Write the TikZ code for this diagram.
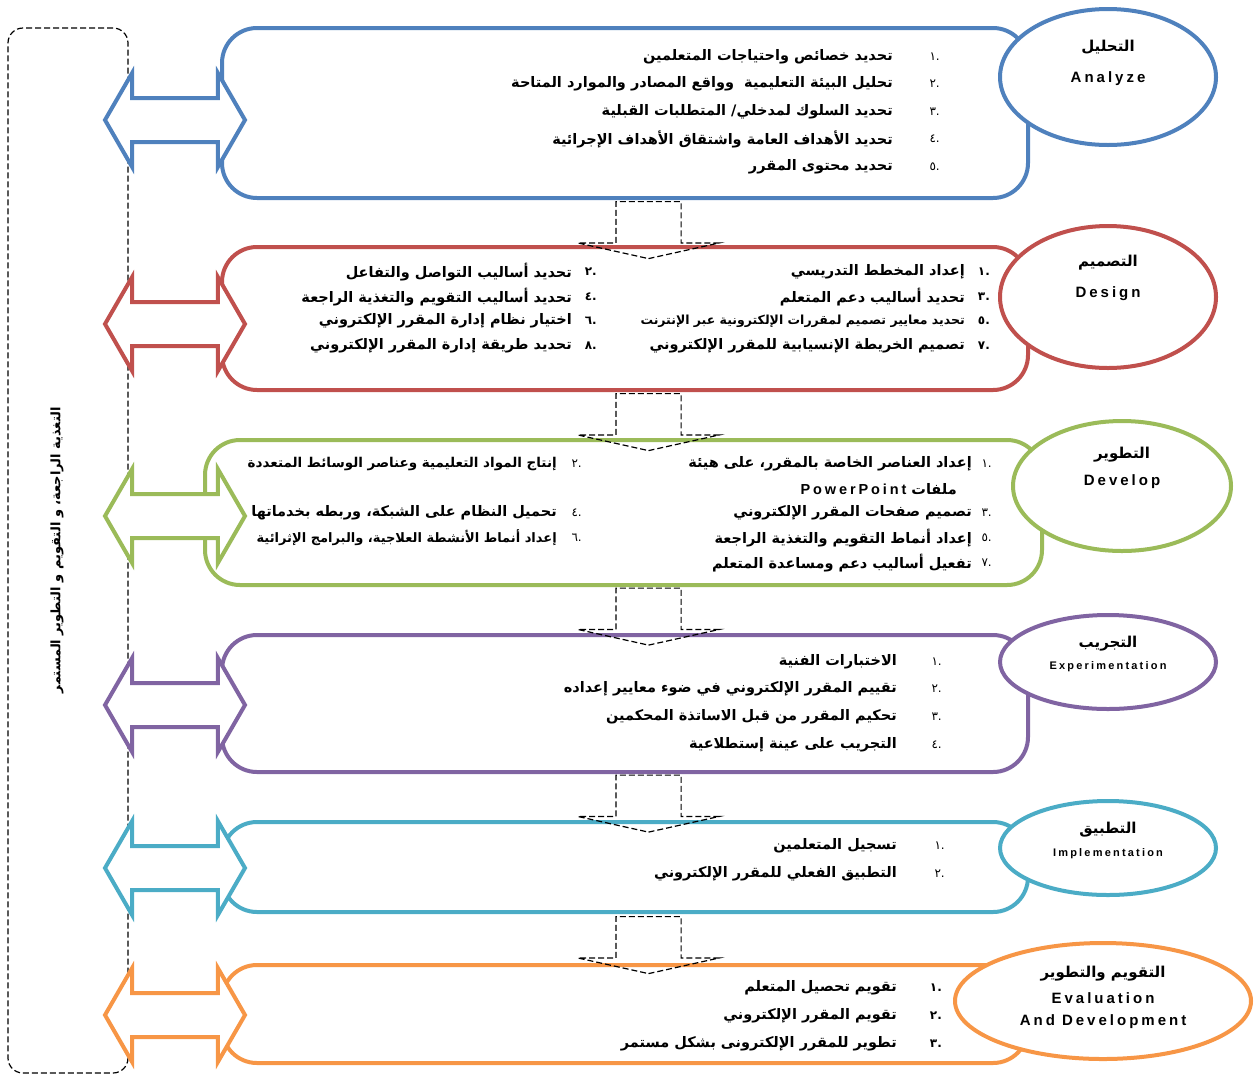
\documentclass[tikz,border=0pt]{standalone}
\usepackage{fontspec}
\setmainfont{Liberation Sans}
\newfontfamily\arabicfont[Script=Arabic]{DejaVu Sans}
\newfontfamily\latinfont[LetterSpace=20]{Liberation Sans}
\TeXXeTstate=1
\usetikzlibrary{shapes.geometric, shapes.arrows, positioning, calc}
\definecolor{stageA}{RGB}{79,129,189}
\definecolor{stageB}{RGB}{192,80,77}
\definecolor{stageC}{RGB}{155,187,89}
\definecolor{stageD}{RGB}{128,100,162}
\definecolor{stageE}{RGB}{75,172,198}
\definecolor{stageF}{RGB}{247,150,70}
\newcommand{\artxt}[1]{\beginR #1\endR}

\begin{document}
\begin{tikzpicture}[x=1pt, y=-1pt,
    stagebox/.style={draw=#1, line width=4pt, rounded corners=35pt, fill=white, inner sep=0pt},
    stagecircle/.style={ellipse, draw=#1, line width=4pt, fill=white, inner sep=0pt},
    sidearrow/.style={double arrow, draw=#1, line width=4pt, fill=white, inner xsep=0pt, inner ysep=20pt,
        minimum height=140pt, double arrow head extend=25pt, double arrow tip angle=120},
    downarrow/.style={single arrow, rotate=-90, draw, dash pattern=on 6pt off 3pt, line width=1.2pt,
        inner xsep=0pt, inner ysep=32pt, minimum height=57pt, single arrow head extend=38pt, single arrow tip angle=155},
    item/.style={anchor=east, inner sep=0pt, font=\arabicfont\bfseries\fontsize{14.5}{16}\selectfont},
    itemsmall/.style={anchor=east, inner sep=0pt, font=\arabicfont\bfseries\fontsize{13.5}{15}\selectfont},
    num/.style={anchor=east, inner sep=0pt, font=\arabicfont\fontsize{12}{14}\selectfont},
    numb/.style={anchor=east, inner sep=0pt, font=\arabicfont\bfseries\fontsize{12}{14}\selectfont},
    title/.style={inner sep=0pt, font=\arabicfont\bfseries\fontsize{15}{17}\selectfont},
    eng/.style={inner sep=0pt, font=\latinfont\bfseries\fontsize{15}{17}\selectfont},
    engsmall/.style={inner sep=0pt, font=\latinfont\bfseries\fontsize{11}{13}\selectfont}]
    \useasboundingbox (0,0) rectangle (1260,1077);

    % Feedback frame
    \node[draw, dash pattern=on 6pt off 3pt, line width=1.2pt, rounded corners=15pt, minimum width=120pt, minimum height=1045pt] (frame) at (68,550.5) {};
    \node[rotate=90, inner sep=0pt, font=\arabicfont\bfseries\fontsize{13}{15}\selectfont] (feedback) at (57,550) {\artxt{التغذية الراجعة، و التقويم و التطوير المستمر}};

    % Stage boxes
    \node[stagebox=stageA, minimum width=806pt, minimum height=170pt] (analyzebox) at (625,113) {};
    \node[stagebox=stageB, minimum width=806pt, minimum height=143pt] (designbox) at (625,318.5) {};
    \node[stagebox=stageC, minimum width=837pt, minimum height=145pt] (developbox) at (623.5,512.5) {};
    \node[stagebox=stageD, minimum width=806pt, minimum height=137pt] (experimentbox) at (625,703.5) {};
    \node[stagebox=stageE, minimum width=806pt, minimum height=90pt] (implementbox) at (625,867) {};
    \node[stagebox=stageF, minimum width=806pt, minimum height=98pt] (evaluatebox) at (625,1014) {};

    % Stage circles
    \node[stagecircle=stageA, minimum width=216pt, minimum height=136pt] (analyze) at (1108,77) {};
    \node[stagecircle=stageB, minimum width=216pt, minimum height=142pt] (design) at (1108,297) {};
    \node[stagecircle=stageC, minimum width=218pt, minimum height=130pt] (develop) at (1122,486) {};
    \node[stagecircle=stageD, minimum width=216pt, minimum height=94pt] (experiment) at (1108,662) {};
    \node[stagecircle=stageE, minimum width=216pt, minimum height=94pt] (implement) at (1108,848) {};
    \node[stagecircle=stageF, minimum width=296pt, minimum height=116pt] (evaluate) at (1103,1001) {};

    % Side arrows
    \foreach \y/\c/\n in {120/stageA/sa, 324/stageB/sb, 516/stageC/sc, 705/stageD/sd, 868/stageE/se, 1015/stageF/sf}
        \node[sidearrow=\c] (\n) at (175,\y) {};

    % Links between stages
    \foreach \y/\n in {226.5/la, 418.5/lb, 613/lc, 800/ld, 941.5/le}
        \node[downarrow] (\n) at (648.5,\y) {};

    % Circle labels
    \node[title] (analyzear) at (1108,47) {التحليل};
    \node[eng] (analyzeen) at (1108,79) {Analyze};
    \node[title] (designar) at (1108,263) {التصميم};
    \node[eng] (designen) at (1108,294) {Design};
    \node[title] (developar) at (1122,455) {التطوير};
    \node[eng] (developen) at (1122,482) {Develop};
    \node[title] (experimentar) at (1108,644) {التجريب};
    \node[engsmall] (experimenten) at (1108,667) {Experimentation};
    \node[title] (implementar) at (1108,830) {التطبيق};
    \node[engsmall] (implementen) at (1108,854) {Implementation};
    \node[title] (evaluatear) at (1103,974) {\artxt{التقويم والتطوير}};
    \node[eng] (evaluateen) at (1103,998) {Evaluation};
    \node[eng] (evaluateen2) at (1103,1022) {And Development};

    % Analyze items
    \node[num] (a1n) at (940,57) {.١};
    \node[item] (a1) at (893,57) {\artxt{تحديد خصائص واحتياجات المتعلمين}};
    \node[num] (a2n) at (940,84) {.٢};
    \node[item] (a2) at (893,84) {\artxt{تحليل البيئة التعليمية \ وواقع المصادر والموارد المتاحة}};
    \node[num] (a3n) at (940,112) {.٣};
    \node[item] (a3) at (893,112) {\artxt{تحديد السلوك لمدخلي/ المتطلبات القبلية}};
    \node[num] (a4n) at (940,139) {.٤};
    \node[item] (a4) at (893,139) {\artxt{تحديد الأهداف العامة واشتقاق الأهداف الإجرائية}};
    \node[num] (a5n) at (940,167) {.٥};
    \node[item] (a5) at (893,167) {\artxt{تحديد محتوى المقرر}};

    % Design items
    \node[numb] (d1n) at (990,272) {.١};
    \node[item] (d1) at (965,272) {\artxt{إعداد المخطط التدريسي}};
    \node[numb] (d3n) at (990,297) {.٣};
    \node[item] (d3) at (965,297) {\artxt{تحديد أساليب دعم المتعلم}};
    \node[numb] (d5n) at (990,321) {.٥};
    \node[itemsmall, font=\arabicfont\bfseries\fontsize{12.5}{14}\selectfont] (d5) at (965,321) {\artxt{تحديد معايير تصميم لمقررات الإلكترونية عبر الإنترنت}};
    \node[numb] (d7n) at (990,346) {.٧};
    \node[item] (d7) at (965,346) {\artxt{تصميم الخريطة الإنسيابية للمقرر الإلكتروني}};
    \node[numb] (d2n) at (597,272) {.٢};
    \node[item] (d2) at (572,272) {\artxt{تحديد أساليب التواصل والتفاعل}};
    \node[numb] (d4n) at (597,297) {.٤};
    \node[item] (d4) at (572,297) {\artxt{تحديد أساليب التقويم والتغذية الراجعة}};
    \node[numb] (d6n) at (597,321) {.٦};
    \node[item] (d6) at (572,321) {\artxt{اختيار نظام إدارة المقرر الإلكتروني}};
    \node[numb] (d8n) at (597,346) {.٨};
    \node[item] (d8) at (572,346) {\artxt{تحديد طريقة إدارة المقرر الإلكتروني}};

    % Develop items
    \node[num] (v1n) at (992,464) {.١};
    \node[item] (v1) at (972,464) {\artxt{إعداد العناصر الخاصة بالمقرر، على هيئة}};
    \node[item] (v1b) at (957,489) {\artxt{ملفات \beginL{\latinfont\bfseries PowerPoint}\endL}};
    \node[num] (v3n) at (992,513) {.٣};
    \node[item] (v3) at (972,513) {\artxt{تصميم صفحات المقرر الإلكتروني}};
    \node[num] (v5n) at (992,538) {.٥};
    \node[item] (v5) at (972,538) {\artxt{إعداد أنماط التقويم والتغذية الراجعة}};
    \node[num] (v7n) at (992,563) {.٧};
    \node[item] (v7) at (972,563) {\artxt{تفعيل أساليب دعم ومساعدة المتعلم}};
    \node[num] (v2n) at (582,464) {.٢};
    \node[itemsmall] (v2) at (557,464) {\artxt{إنتاج المواد التعليمية وعناصر الوسائط المتعددة}};
    \node[num] (v4n) at (582,513) {.٤};
    \node[item] (v4) at (557,513) {\artxt{تحميل النظام على الشبكة، وربطه بخدماتها}};
    \node[num] (v6n) at (582,538) {.٦};
    \node[itemsmall, font=\arabicfont\bfseries\fontsize{13}{15}\selectfont] (v6) at (557,538) {\artxt{إعداد أنماط الأنشطة العلاجية، والبرامج الإثرائية}};

    % Experimentation items
    \node[num] (e1n) at (942,662) {.١};
    \node[item] (e1) at (897,662) {\artxt{الاختبارات الفنية}};
    \node[num] (e2n) at (942,689) {.٢};
    \node[item] (e2) at (897,689) {\artxt{تقييم المقرر الإلكتروني في ضوء معايير إعداده}};
    \node[num] (e3n) at (942,717) {.٣};
    \node[item] (e3) at (897,717) {\artxt{تحكيم المقرر من قبل الاساتذة المحكمين}};
    \node[num] (e4n) at (942,745) {.٤};
    \node[item] (e4) at (897,745) {\artxt{التجريب على عينة إستطلاعية}};

    % Implementation items
    \node[num] (i1n) at (945,846) {.١};
    \node[item] (i1) at (897,846) {\artxt{تسجيل المتعلمين}};
    \node[num] (i2n) at (945,874) {.٢};
    \node[item] (i2) at (897,874) {\artxt{التطبيق الفعلي للمقرر الإلكتروني}};

    % Evaluation items
    \node[numb] (t1n) at (942,988) {.١};
    \node[item] (t1) at (897,988) {\artxt{تقويم تحصيل المتعلم}};
    \node[numb] (t2n) at (942,1016) {.٢};
    \node[item] (t2) at (897,1016) {\artxt{تقويم المقرر الإلكتروني}};
    \node[numb] (t3n) at (942,1044) {.٣};
    \node[item] (t3) at (897,1044) {\artxt{تطوير للمقرر الإلكترونى بشكل مستمر}};
\end{tikzpicture}
\end{document}
